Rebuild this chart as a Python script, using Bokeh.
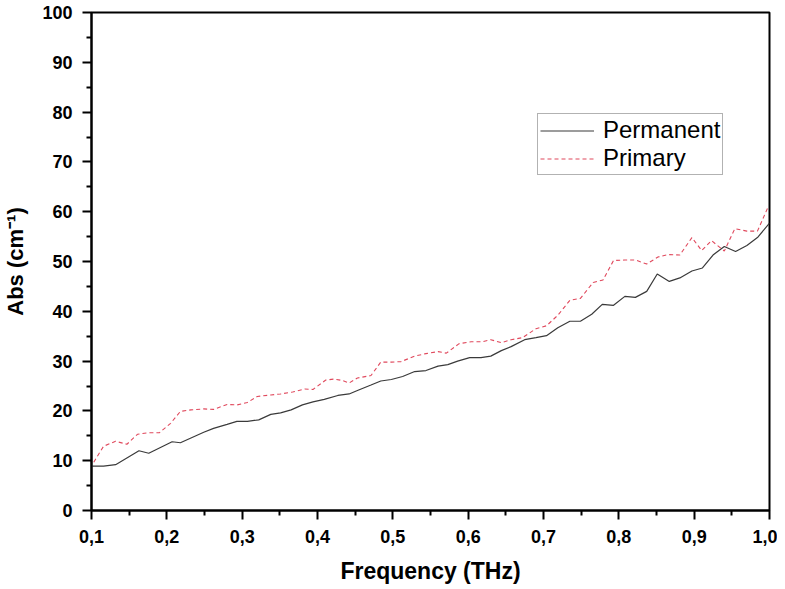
from bokeh.plotting import figure
from bokeh.models import FixedTicker, Range1d, Legend, LegendItem
from bokeh.embed import file_html
from bokeh.resources import INLINE

# --- data ---
perm_x = [0.100, 0.116, 0.132, 0.163, 0.176, 0.207, 0.218, 0.249, 0.262, 0.280,
          0.293, 0.307, 0.322, 0.338, 0.351, 0.365, 0.380, 0.394, 0.409, 0.427,
          0.442, 0.453, 0.471, 0.484, 0.498, 0.513, 0.529, 0.544, 0.560, 0.573,
          0.586, 0.602, 0.617, 0.630, 0.644, 0.657, 0.675, 0.690, 0.704, 0.719,
          0.735, 0.749, 0.764, 0.778, 0.793, 0.808, 0.822, 0.837, 0.851, 0.867,
          0.881, 0.897, 0.911, 0.925, 0.940, 0.955, 0.970, 0.984, 1.000]
perm_y = [8.9, 8.9, 9.2, 12.0, 11.5, 13.8, 13.6, 15.7, 16.5, 17.3,
          17.9, 17.9, 18.2, 19.3, 19.6, 20.2, 21.2, 21.8, 22.3, 23.1,
          23.4, 24.1, 25.2, 26.0, 26.3, 26.9, 27.9, 28.1, 29.0, 29.3,
          30.0, 30.7, 30.7, 31.0, 32.1, 32.9, 34.3, 34.7, 35.1, 36.7,
          38.0, 38.0, 39.4, 41.4, 41.2, 43.0, 42.8, 44.0, 47.5, 46.0,
          46.7, 48.1, 48.7, 51.3, 53.0, 52.0, 53.2, 54.8, 57.7]

prim_x = [0.103, 0.116, 0.132, 0.147, 0.161, 0.174, 0.190, 0.205, 0.218, 0.232,
          0.249, 0.262, 0.280, 0.293, 0.307, 0.320, 0.338, 0.351, 0.367, 0.383,
          0.394, 0.411, 0.422, 0.433, 0.442, 0.453, 0.471, 0.484, 0.498, 0.511,
          0.529, 0.544, 0.560, 0.571, 0.588, 0.604, 0.619, 0.630, 0.644, 0.657,
          0.672, 0.690, 0.704, 0.719, 0.735, 0.749, 0.766, 0.779, 0.793, 0.808,
          0.822, 0.837, 0.852, 0.865, 0.881, 0.897, 0.910, 0.923, 0.940, 0.954,
          0.970, 0.984, 0.998]
prim_y = [9.7, 12.9, 13.9, 13.3, 15.3, 15.6, 15.6, 17.5, 19.9, 20.2,
          20.4, 20.3, 21.3, 21.2, 21.7, 22.9, 23.2, 23.4, 23.8, 24.4,
          24.3, 26.2, 26.4, 26.1, 25.6, 26.6, 27.1, 29.8, 29.8, 29.9,
          31.0, 31.5, 31.9, 31.6, 33.5, 33.9, 33.9, 34.3, 33.7, 34.3,
          34.7, 36.5, 37.1, 39.2, 42.2, 42.6, 45.8, 46.3, 50.2, 50.3,
          50.3, 49.5, 50.9, 51.4, 51.3, 54.8, 52.2, 54.2, 52.1, 56.6,
          56.1, 56.1, 60.9]

x_tick_values = [0.1, 0.2, 0.3, 0.4, 0.5, 0.6, 0.7, 0.8, 0.9, 1.0]
x_tick_labels = ["0,1", "0,2", "0,3", "0,4", "0,5", "0,6", "0,7", "0,8", "0,9", "1,0"]
x_minor_values = [0.15, 0.25, 0.35, 0.45, 0.55, 0.65, 0.75, 0.85, 0.95]
y_tick_values = [0, 10, 20, 30, 40, 50, 60, 70, 80, 90, 100]
y_minor_values = [5, 15, 25, 35, 45, 55, 65, 75, 85, 95]

series_names = ["Permanent", "Primary"]

FONT = "Liberation Sans"

p = figure(width=777, height=586, output_backend="svg", toolbar_location=None,
           x_range=Range1d(0.1, 1.0), y_range=Range1d(0, 100),
           min_border_left=91, min_border_top=12, min_border_right=8,
           min_border_bottom=76)

p.xgrid.visible = False
p.ygrid.visible = False
p.background_fill_color = "white"
p.border_fill_color = "white"
p.outline_line_color = "black"
p.outline_line_width = 2

r1 = p.line(perm_x, perm_y, line_color="#3a3a3a", line_width=1.2)
r2 = p.line(prim_x, prim_y, line_color="#e0485c", line_width=1.1, line_dash="4 3")

p.xaxis.ticker = FixedTicker(ticks=x_tick_values, minor_ticks=x_minor_values)
p.xaxis.major_label_overrides = {v: l for v, l in zip(x_tick_values, x_tick_labels)}
p.yaxis.ticker = FixedTicker(ticks=y_tick_values, minor_ticks=y_minor_values)

for ax in (p.xaxis[0], p.yaxis[0]):
    ax.axis_line_width = 2
    ax.axis_line_color = "black"
    ax.major_tick_line_width = 2
    ax.minor_tick_line_width = 2
    ax.major_tick_in = 0
    ax.major_tick_out = 9
    ax.minor_tick_in = 0
    ax.minor_tick_out = 5
    ax.major_label_text_font = FONT
    ax.major_label_text_font_style = "bold"
    ax.major_label_text_font_size = "18px"
    ax.major_label_text_color = "black"
    ax.axis_label_text_font = FONT
    ax.axis_label_text_font_style = "bold"
    ax.axis_label_text_color = "black"
    ax.major_label_standoff = 10

p.xaxis.axis_label = "Frequency (THz)"
p.xaxis.axis_label_text_font_size = "23px"
p.xaxis.axis_label_standoff = 12
p.yaxis.axis_label = "Abs (cm\u207b\u00b9)"
p.yaxis.axis_label_text_font_size = "22px"
p.yaxis.axis_label_standoff = 11

legend = Legend(items=[LegendItem(label=series_names[0], renderers=[r1]),
                       LegendItem(label=series_names[1], renderers=[r2])],
                location=(446, 335))
legend.padding = 2
legend.spacing = 0
legend.margin = 0
legend.label_height = 27
legend.glyph_height = 27
legend.glyph_width = 54
legend.label_standoff = 9
legend.label_text_font = FONT
legend.label_text_font_size = "24px"
legend.label_text_color = "black"
legend.border_line_color = "#666666"
legend.border_line_width = 1
legend.background_fill_alpha = 1
p.add_layout(legend, "center")

open("out.html", "w").write(file_html(p, INLINE))
